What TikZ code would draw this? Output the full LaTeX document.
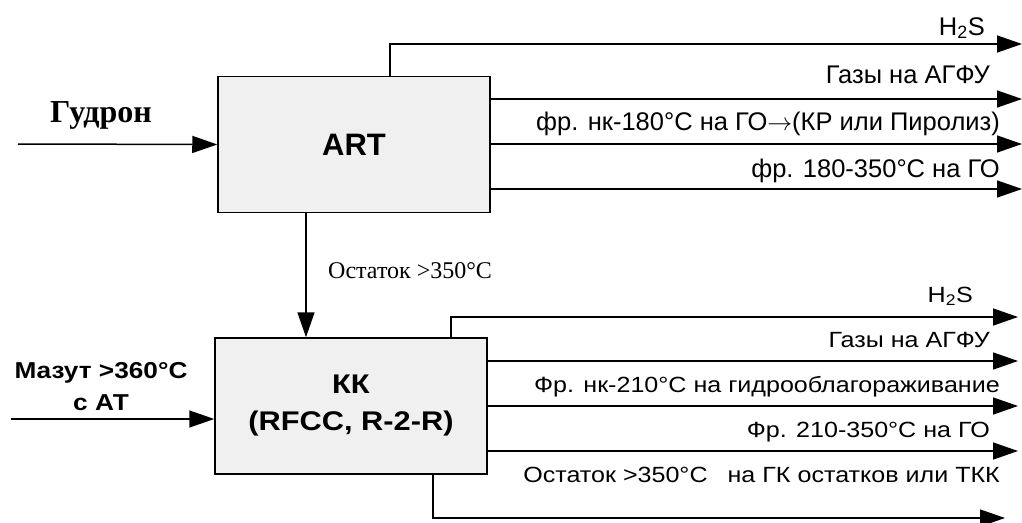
\documentclass[tikz,border=0pt]{standalone}
\usepackage{fontspec}
\setmainfont{Liberation Serif}
\setsansfont{Liberation Sans}
\newfontfamily\widesans[FakeStretch=1.14]{Liberation Sans}
\usetikzlibrary{arrows.meta,positioning,calc}
\definecolor{cBox}{HTML}{F0F0F0}

\begin{document}
\begin{tikzpicture}[
  x=1pt, y=-1pt,
  unit/.style={draw, fill=cBox, line width=1.5pt, minimum width=272pt, minimum height=136pt, align=center},
  flow/.style={-{Triangle[length=25pt,width=17pt]}, line width=1.5pt},
  outlbl/.style={anchor=base east, inner sep=0pt, font=\sffamily\fontsize{25.5}{28}\selectfont},
  outlblw/.style={anchor=base east, inner sep=0pt, font=\widesans\fontsize{22}{26}\selectfont},
]
\useasboundingbox (0,0) rectangle (1022,522);

% ── units ─────────────────────────────────────────────────────────────────
\node[unit, font=\sffamily\bfseries\fontsize{31}{36}\selectfont] (art) at (354,144.5) {ART};
\node[unit, font=\widesans\bfseries\fontsize{27}{37}\selectfont] (kk) at (351,406) {КК\\(RFCC, R-2-R)};

% ── feeds ─────────────────────────────────────────────────────────────────
\coordinate (gIn) at (18,144);
\coordinate (mIn) at (11,419);
\node[font=\bfseries\fontsize{32}{36}\selectfont, anchor=base, inner sep=0pt] (gLbl) at (101,122) {Гудрон};
\node[font=\widesans\bfseries\fontsize{23}{32}\selectfont, align=center, anchor=base, inner sep=0pt] (mLbl) at (101,410) {Мазут >360°С\\с АТ};
\draw[flow] (gIn) -- (art.west);
\draw[flow] (mIn) -- (mIn -| kk.west);

% ── residue ART -> KK ─────────────────────────────────────────────────────
\draw[flow] ([xshift=-48pt]art.south) -- ([xshift=-45pt]kk.north);
\node[font=\fontsize{24}{28}\selectfont, anchor=base west, inner sep=0pt] (resLbl) at (328,278) {Остаток >350°C};

% ── ART products ──────────────────────────────────────────────────────────
\coordinate (a1) at (1022,44);
\coordinate (a2) at (1022,99);
\coordinate (a3) at (1022,144);
\coordinate (a4) at (1022,189);
\draw[flow] ([xshift=36pt]art.north) |- (a1);
\draw[flow] (art.east |- a2) -- (a2);
\draw[flow] (art.east |- a3) -- (a3);
\draw[flow] (art.east |- a4) -- (a4);
\node[outlbl] (a1L) at (985,35) {H\textsubscript{2}S};
\node[outlbl] (a2L) at (990,83) {Газы на АГФУ};
\node[outlbl] (a3L) at (1000,130) {фр. нк-180°C на ГО$\rightarrow$(КР или Пиролиз)};
\node[outlbl] (a4L) at (1000,177) {фр. 180-350°C на ГО};

% ── KK products ───────────────────────────────────────────────────────────
\coordinate (k1) at (1018,317);
\coordinate (k2) at (1018,361);
\coordinate (k3) at (1018,406);
\coordinate (k4) at (1018,451);
\coordinate (k5) at (1005,518);
\draw[flow] ([xshift=100pt]kk.north) |- (k1);
\draw[flow] (kk.east |- k2) -- (k2);
\draw[flow] (kk.east |- k3) -- (k3);
\draw[flow] (kk.east |- k4) -- (k4);
\draw[flow] ([xshift=82pt]kk.south) |- (k5);
\node[outlblw] (k1L) at (973,302) {H\textsubscript{2}S};
\node[outlblw] (k2L) at (990,347) {Газы на АГФУ};
\node[outlblw] (k3L) at (1000,392) {Фр. нк-210°C на гидрооблагораживание};
\node[outlblw] (k4L) at (990,437) {Фр. 210-350°C на ГО};
\node[outlblw] (k5L) at (1000,482) {Остаток >350°C\hspace{20pt}на ГК остатков или ТКК};
\end{tikzpicture}
\end{document}
